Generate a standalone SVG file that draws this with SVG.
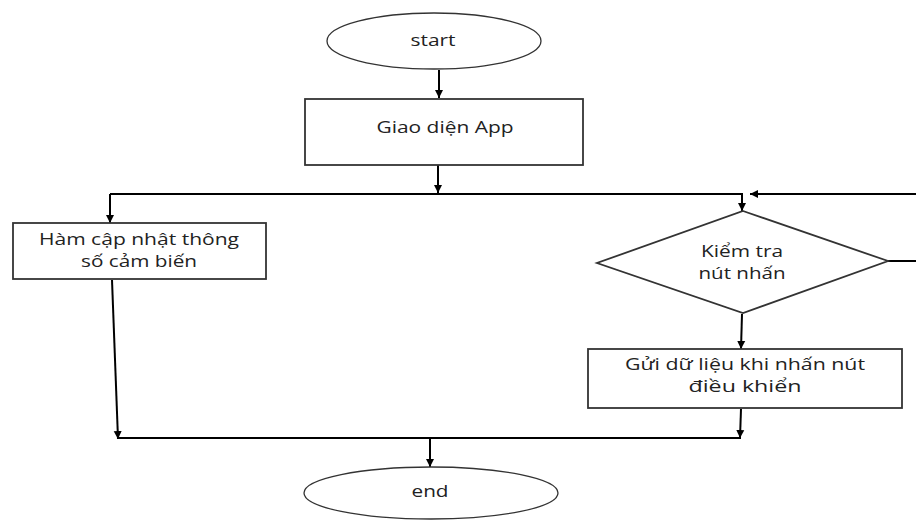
<svg xmlns="http://www.w3.org/2000/svg" width="916" height="525" viewBox="0 0 916 525">
<defs>
<marker id="ah" markerWidth="10" markerHeight="10" refX="8" refY="5" orient="auto" markerUnits="userSpaceOnUse">
<path d="M0,1 L8,5 L0,9 Z" fill="#000"/>
</marker>
<style>
.shape{fill:#fff;stroke:#333;stroke-width:1.8}
.ell{fill:#fff;stroke:#333;stroke-width:1.3}
.conn{fill:none;stroke:#000;stroke-width:2}
.arr{fill:none;stroke:#000;stroke-width:2;marker-end:url(#ah)}
text{font-family:"Open Sans","Noto Sans","DejaVu Sans",sans-serif;font-size:16px;fill:#222;text-anchor:middle}
</style>
</defs>
<rect width="916" height="525" fill="#fff"/>
<g id="connectors">
<path class="arr" d="M439,70 L439,98"/>
<path class="arr" d="M438,165 L438,193"/>
<path class="conn" d="M110,194 L743,194"/>
<path class="arr" d="M916,194 L750,194"/>
<path class="arr" d="M110,194 L110,223"/>
<path class="arr" d="M742,194 L742,211"/>
<path class="conn" d="M888,261 L916,261"/>
<path class="arr" d="M112,280 L118,439"/>
<path class="arr" d="M742,314 L741,349"/>
<path class="arr" d="M741,409 L740,438"/>
<path class="conn" d="M117,438 L741,438"/>
<path class="arr" d="M430,438 L430,467"/>
</g>
<g id="start">
<ellipse class="ell" cx="434" cy="41" rx="107" ry="28"/>
<text x="433" y="46" textLength="45" lengthAdjust="spacingAndGlyphs">start</text>
</g>
<g id="app">
<rect class="shape" x="305" y="99" width="278" height="66"/>
<text x="445" y="133" textLength="137" lengthAdjust="spacingAndGlyphs">Giao diện App</text>
</g>
<g id="sensor">
<rect class="shape" x="13" y="223" width="253" height="56"/>
<text x="139" y="245" textLength="200" lengthAdjust="spacingAndGlyphs">Hàm cập nhật thông</text>
<text x="139" y="267" textLength="116" lengthAdjust="spacingAndGlyphs">số cảm biến</text>
</g>
<g id="check">
<polygon class="shape" points="743,211 888,261 743,313 597,263"/>
<text x="742" y="257" textLength="82" lengthAdjust="spacingAndGlyphs">Kiểm tra</text>
<text x="742" y="279" textLength="87" lengthAdjust="spacingAndGlyphs">nút nhấn</text>
</g>
<g id="send">
<rect class="shape" x="588" y="349" width="314" height="59"/>
<text x="745" y="370" textLength="240" lengthAdjust="spacingAndGlyphs">Gửi dữ liệu khi nhấn nút</text>
<text x="745" y="392" textLength="113" lengthAdjust="spacingAndGlyphs">điều khiển</text>
</g>
<g id="end">
<ellipse class="ell" cx="431" cy="493" rx="127" ry="26"/>
<text x="430" y="497" textLength="37" lengthAdjust="spacingAndGlyphs">end</text>
</g>
</svg>
